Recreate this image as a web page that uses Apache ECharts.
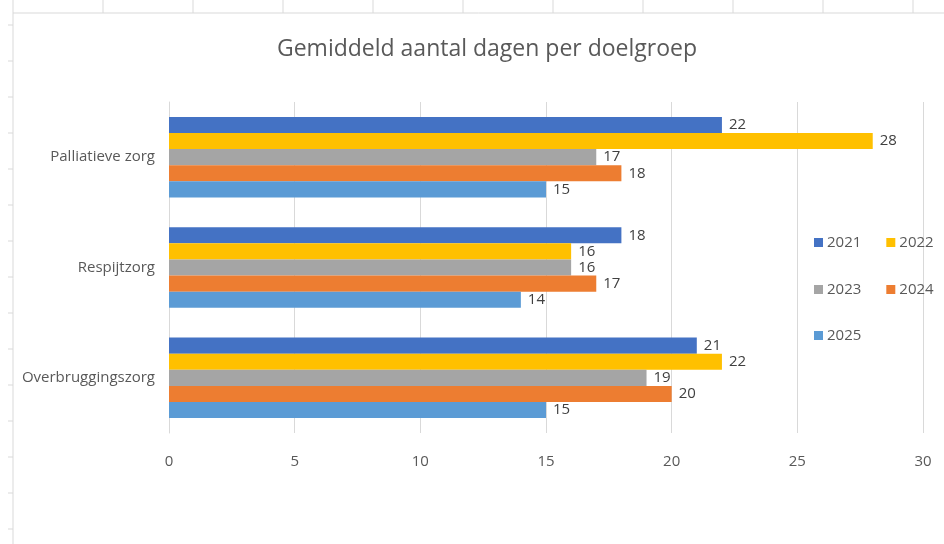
<!DOCTYPE html>
<html>
<head>
<meta charset="utf-8">
<script src="https://cdn.jsdelivr.net/npm/echarts@6/dist/echarts.min.js"></script>
<style>
  html, body { margin: 0; padding: 0; background: #fff; }
  #chart { width: 944px; height: 544px; }
</style>
</head>
<body>
<div id="chart"></div>
<script>
// data
const categories = ['Palliatieve zorg', 'Respijtzorg', 'Overbruggingszorg']
const years = ['2021', '2022', '2023', '2024', '2025']
const v2021 = [22, 18, 21]
const v2022 = [28, 16, 22]
const v2023 = [17, 16, 19]
const v2024 = [18, 17, 20]
const v2025 = [15, 14, 15]
const xTicks = [0, 5, 10, 15, 20, 25, 30]

const colorArray = ['#4472C4', '#FFC000', '#A5A5A5', '#ED7D31', '#5B9BD5']
const fontName = "'Open Sans', sans-serif"
const allValues = [v2021, v2022, v2023, v2024, v2025]

let myChart = echarts.init(document.getElementById('chart'))

// spreadsheet bits round the chart
let deco = []
for (let x = 13; x < 944; x += 90) {
  deco.push({ type: 'line', shape: { x1: x, y1: 0, x2: x, y2: 13 }, style: { stroke: '#d9d9d9', lineWidth: 1 } })
}
for (let y = 25; y < 544; y += 36) {
  deco.push({ type: 'line', shape: { x1: 8, y1: y, x2: 13, y2: y }, style: { stroke: '#d9d9d9', lineWidth: 1 } })
}
deco.push({ type: 'line', shape: { x1: 13, y1: 13, x2: 944, y2: 13 }, style: { stroke: '#d9d9d9', lineWidth: 1 } })
deco.push({ type: 'line', shape: { x1: 13, y1: 13, x2: 13, y2: 544 }, style: { stroke: '#d9d9d9', lineWidth: 1 } })

let series = years.map(function (year, index) {
  return {
    name: year,
    type: 'bar',
    data: allValues[index],
    barGap: '0%',
    barCategoryGap: '27%',
    itemStyle: { color: colorArray[index] },
    label: {
      show: true,
      position: 'right',
      distance: 7,
      color: '#404040',
      fontSize: 15,
      fontFamily: fontName
    },
    z: 3
  }
})

let legendBase = {
  orient: 'horizontal',
  itemWidth: 9,
  itemHeight: 9,
  itemGap: 25,
  icon: 'rect',
  textStyle: { color: '#595959', fontSize: 15, fontFamily: fontName, padding: [0, 0, 0, -1] },
  left: 809
}

let option = {
  color: colorArray,
  animation: false,
  graphic: deco,
  title: {
    text: 'Gemiddeld aantal dagen per doelgroep',
    left: 482,
    top: 33,
    textAlign: 'center',
    textStyle: { color: '#595959', fontSize: 23, fontWeight: 'normal', fontFamily: fontName }
  },
  legend: [
    Object.assign({}, legendBase, { data: ['2021', '2022'], top: 230 }),
    Object.assign({}, legendBase, { data: ['2023', '2024'], top: 277 }),
    Object.assign({}, legendBase, { data: ['2025'], top: 323 })
  ],
  grid: {
    left: 169,
    right: 21,
    top: 102,
    bottom: 111,
    containLabel: false
  },
  xAxis: {
    type: 'value',
    min: 0,
    max: 30,
    interval: 5,
    axisLine: { show: false },
    axisTick: { show: false },
    splitLine: { show: true, lineStyle: { color: '#d9d9d9', width: 1 } },
    axisLabel: {
      color: '#595959',
      fontSize: 15,
      fontFamily: fontName,
      margin: 21,
      formatter: function (v) { return xTicks.indexOf(v) >= 0 ? String(v) : '' }
    }
  },
  yAxis: {
    type: 'category',
    data: categories,
    inverse: true,
    axisLine: { show: true, lineStyle: { color: '#d9d9d9' } },
    axisTick: { show: false },
    axisLabel: { color: '#595959', fontSize: 15, fontFamily: fontName, margin: 14 }
  },
  series: series
}

myChart.setOption(option)
</script>
</body>
</html>
